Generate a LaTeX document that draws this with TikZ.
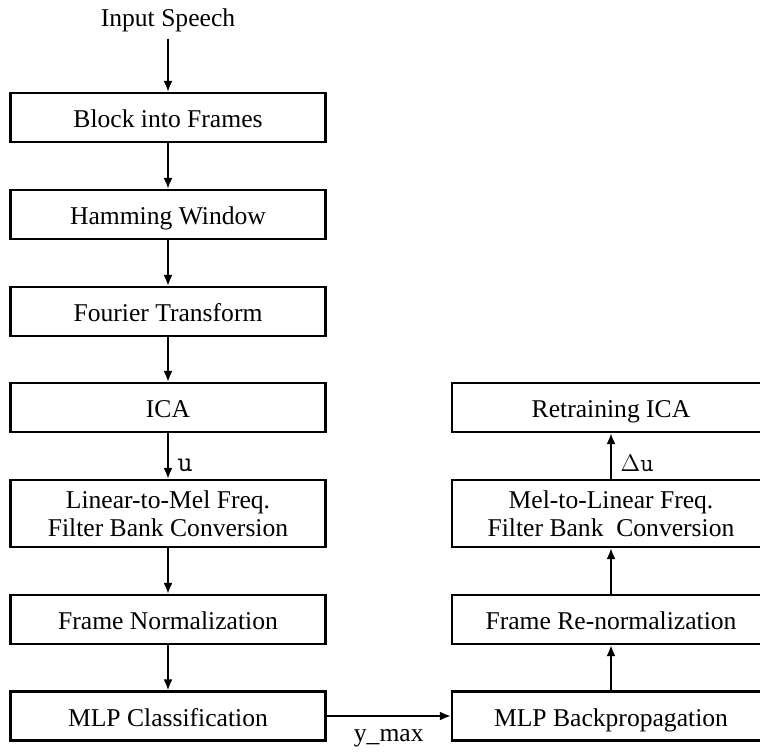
\documentclass[tikz,border=0pt]{standalone}
\usepackage{fontspec}
\setmainfont{Liberation Serif}
\usetikzlibrary{positioning, arrows.meta}

\tikzset{
    boxbase/.style={draw, line width=1.1pt, minimum width=157.5pt, inner sep=0pt,
        align=center, font=\fontsize{12.8}{14}\selectfont},
    stage/.style={boxbase, minimum height=24.5pt, text height=12pt, text depth=2pt},
    tallstage/.style={boxbase, minimum height=33.5pt},
    rstage/.style={stage, minimum width=159pt},
    rtallstage/.style={tallstage, minimum width=159pt},
    flow/.style={-{Latex[length=5.5pt, width=4.5pt]}, line width=1pt},
    tag/.style={font=\fontsize{12.8}{14}\selectfont}
}

\begin{document}
\begin{tikzpicture}[x=0.5pt, y=-0.5pt]
    \clip (0,0) rectangle (760,751);
    % left column
    \node[tag] (speech) at (168,20) {Input Speech};
    \node[stage] (frames) at (168,117.5) {Block into Frames};
    \node[stage] (hamming) at (168,214.5) {Hamming Window};
    \node[stage] (fourier) at (168,311.5) {Fourier Transform};
    \node[stage] (ica) at (168,407.5) {ICA};
    \node[tallstage] (linmel) at (168,513.5) {Linear-to-Mel Freq.\\Filter Bank Conversion};
    \node[stage] (norm) at (168,619.5) {Frame Normalization};
    \node[stage] (mlpclass) at (168,716) {MLP Classification};
    % right column
    \node[rstage] (retrain) at (611,407.5) {Retraining ICA};
    \node[rtallstage] (mellin) at (611,513.5) {Mel-to-Linear Freq.\\Filter Bank\ \ Conversion};
    \node[rstage] (renorm) at (611,619.5) {Frame Re-normalization};
    \node[rstage] (mlpback) at (611,716) {MLP Backpropagation};

    \draw[flow] (speech) -- (frames);
    \draw[flow] (frames) -- (hamming);
    \draw[flow] (hamming) -- (fourier);
    \draw[flow] (fourier) -- (ica);
    \draw[flow] (ica) -- node[pos=0.7, right, xshift=1pt, font=\fontsize{14.5}{15}\ttfamily] {u} (linmel);
    \draw[flow] (linmel) -- (norm);
    \draw[flow] (norm) -- (mlpclass);
    \draw[flow] (mlpclass) -- node[below, yshift=-3pt, tag] {y\_max} (mlpback);
    \draw[flow] (mlpback) -- (renorm);
    \draw[flow] (renorm) -- (mellin);
    \draw[flow] (mellin) -- node[pos=0.35, right, xshift=1pt, tag] {$\Delta$\texttt{u}} (retrain);
\end{tikzpicture}
\end{document}
